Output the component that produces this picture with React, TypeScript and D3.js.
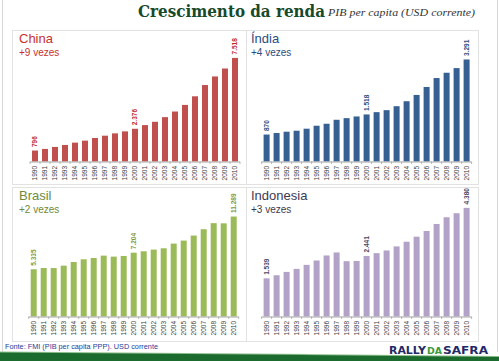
import React from "react";
import * as d3 from "d3";

// Chart values (PIB per capita, USD corrente)
const years = [
  "1990", "1991", "1992", "1993", "1994", "1995", "1996", "1997", "1998", "1999", "2000",
  "2001", "2002", "2003", "2004", "2005", "2006", "2007", "2008", "2009", "2010",
];
const countries = ["China", "Índia", "Brasil", "Indonesia"];
const growthLabels = ["+9 vezes", "+4 vezes", "+2 vezes", "+3 vezes"];
const chinaValues = [796, 913, 1057, 1201, 1369, 1513, 1705, 1873, 2042, 2186, 2376, 2642, 2882, 3219, 3627, 4107, 4732, 5549, 6173, 6750, 7518];
const indiaValues = [870, 919, 961, 993, 1058, 1154, 1218, 1346, 1399, 1453, 1518, 1592, 1656, 1784, 1944, 2147, 2404, 2692, 2863, 3013, 3291];
const brasilValues = [5335, 5475, 5470, 5740, 6155, 6457, 6608, 6872, 6759, 6835, 7204, 7363, 7552, 7703, 8232, 8572, 9138, 9856, 10540, 10520, 11289];
const indonesiaValues = [1539, 1663, 1798, 1920, 2082, 2258, 2461, 2582, 2231, 2240, 2441, 2555, 2663, 2826, 3015, 3218, 3448, 3731, 4002, 4164, 4380];
const labelledYears = ["1990", "2000", "2010"];
const yAxisMax = [9000, 4000, 14000, 5000];

const seriesValues = [chinaValues, indiaValues, brasilValues, indonesiaValues];

// layout / style per panel
const PLOT_H = 124;
const panels = [
  { left: 12, top: 30, w: 234, h: 154, x0: 30, baseline: 161.5, bar: "#c0504d", title: "#c8312f", label: "#c0282a" },
  { left: 246, top: 30, w: 232, h: 154, x0: 261.6, baseline: 161.5, bar: "#376092", title: "#2b4c7e", label: "#2b4c7e" },
  { left: 12, top: 187, w: 234, h: 154, x0: 28.7, baseline: 316.5, bar: "#9bbb59", title: "#6f8a38", label: "#7f9a3e" },
  { left: 246, top: 187, w: 232, h: 154, x0: 261.6, baseline: 316.5, bar: "#b3a2c7", title: "#3e3a4f", label: "#4a4660" },
];

const ptBR = d3.formatLocale({ decimal: ",", thousands: ".", grouping: [3], currency: ["", ""] });
const fmt = ptBR.format(",");

const SANS = "'Liberation Sans', Arial, sans-serif";

function Panel({ i }: { i: number }) {
  const p = panels[i];
  const values = seriesValues[i];
  const x = d3.scaleBand<string>().domain(years).range([p.x0, p.x0 + 210]).paddingInner(0.4).paddingOuter(0.2);
  const y = d3.scaleLinear().domain([0, yAxisMax[i]]).range([p.baseline, p.baseline - PLOT_H]);
  const step = x.step();
  const ticks = d3.range(years.length + 1).map((k) => p.x0 + k * step);

  return (
    <g>
      <rect x={p.left + 0.5} y={p.top + 0.5} width={p.w} height={p.h} fill="#fff" stroke="#e2e2e2" strokeWidth={1} />
      <text x={p.left + 7 - (i % 2) * 2} y={p.top + 13} fontFamily={SANS} fontSize={13} fill={p.title}>
        {countries[i]}
      </text>
      <text x={p.left + 7 - (i % 2) * 2} y={p.top + 25.5} fontFamily={SANS} fontSize={10} fill={p.title}>
        {growthLabels[i]}
      </text>
      {years.map((yr, k) => (
        <rect key={yr} x={x(yr)} y={y(values[k])} width={x.bandwidth()} height={p.baseline - y(values[k])} fill={p.bar} />
      ))}
      <line x1={p.x0} x2={p.x0 + 210} y1={p.baseline + 0.5} y2={p.baseline + 0.5} stroke="#a6a6a6" strokeWidth={1} />
      {ticks.map((t, k) => (
        <line key={k} x1={t} x2={t} y1={p.baseline} y2={p.baseline + 2.5} stroke="#a6a6a6" strokeWidth={0.8} />
      ))}
      {years.map((yr) => {
        const cx = (x(yr) as number) + x.bandwidth() / 2;
        const ty = p.baseline + 4.5;
        return (
          <text key={yr} transform={`translate(${cx + 2.2},${ty}) rotate(-90)`} textAnchor="end"
            fontFamily={SANS} fontSize={6.5} fill="#404040">
            {yr}
          </text>
        );
      })}
      {years.map((yr, k) => {
        if (!labelledYears.includes(yr)) return null;
        const cx = (x(yr) as number) + x.bandwidth() / 2;
        const ty = y(values[k]) - 3.5;
        return (
          <text key={"v" + yr} transform={`translate(${cx + 2.2},${ty}) rotate(-90)`} textAnchor="start"
            fontFamily={SANS} fontSize={6.5} fontWeight="bold" fill={p.label}>
            {fmt(values[k])}
          </text>
        );
      })}
    </g>
  );
}

export default function App() {
  return (
    <svg width={499} height={361} viewBox="0 0 499 361" style={{ position: "absolute", left: 0, top: 0, background: "#fff" }}>
      <rect x={0} y={0} width={499} height={361} fill="#fff" />
      <line x1={2.5} x2={2.5} y1={0} y2={352} stroke="#d6d6d6" />
      <line x1={497.5} x2={497.5} y1={0} y2={352} stroke="#d6d6d6" />
      <text x={138} y={16.5} fontFamily="'DejaVu Serif', serif" fontWeight="bold" fontSize={16} fill="#174a2a"
        textLength={187} lengthAdjust="spacingAndGlyphs">
        Crescimento da renda
      </text>
      <text x={328} y={16} fontFamily="'Liberation Serif', serif" fontStyle="italic" fontSize={10.5} fill="#333"
        textLength={147} lengthAdjust="spacingAndGlyphs">
        PIB per capita (USD corrente)
      </text>
      {panels.map((_, i) => (
        <Panel key={i} i={i} />
      ))}
      <text x={5} y={349} fontFamily={SANS} fontSize={7.2} fill="#1f3c99" textLength={153} lengthAdjust="spacingAndGlyphs">
        Fonte:  FMI (PIB per capita PPP). USD corrente
      </text>
      <path d="M0,351.5 Q250,353 499,356 L499,361 L0,361 Z" fill="#8fbf8f" />
      <path d="M0,352.5 Q250,354 499,357 L499,361 L0,361 Z" fill="#1b6b2e" />
      <text y={354} fontFamily="'DejaVu Sans', sans-serif" fontWeight="bold" fontSize={10.5}>
        <tspan x={389} fill="#1f2a66" textLength={37} lengthAdjust="spacingAndGlyphs">RALLY</tspan>
        <tspan x={427} fill="#3c9a3c" fontSize={8} textLength={15} lengthAdjust="spacingAndGlyphs">DA</tspan>
        <tspan x={443} fill="#1f2a66" textLength={45} lengthAdjust="spacingAndGlyphs">SAFRA</tspan>
      </text>
    </svg>
  );
}
